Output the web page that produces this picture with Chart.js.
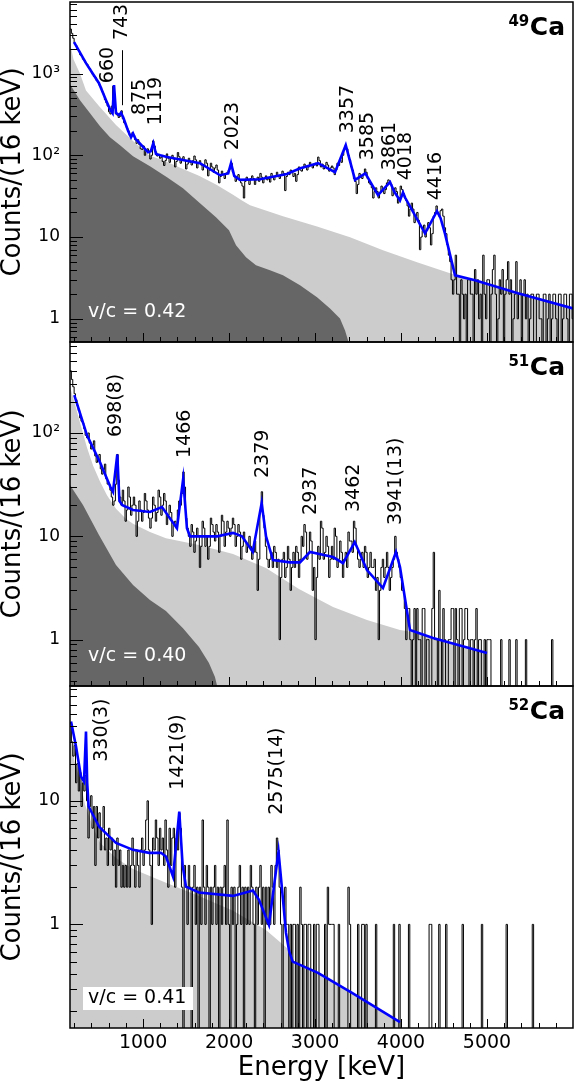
<!DOCTYPE html>
<html><head><meta charset="utf-8">
<script src="https://cdn.jsdelivr.net/npm/chart.js@4.4.1/dist/chart.umd.min.js"></script>
<style>
html,body{margin:0;padding:0;background:#fff;}
#wrap{position:relative;width:575px;height:1086px;overflow:hidden;background:#fff;}
canvas{position:absolute;left:0;}
</style></head><body>
<div id="wrap">
<canvas id="c1" width="575" height="344" style="top:0px;width:575px;height:344px"></canvas>
<canvas id="c2" width="575" height="348" style="top:340px;width:575px;height:348px"></canvas>
<canvas id="c3" width="575" height="402" style="top:684px;width:575px;height:402px"></canvas>
</div>
<script>
// ---------------- DATA ----------------
const energyMin = 150, energyMax = 6000;
const binStart = 150;
const binWidth = 16;
const xTickValues = [1000, 2000, 3000, 4000, 5000];

// 49Ca measured spectrum (counts per 16 keV, first bin starts at 150 keV)
const ca49Counts = [
3500,3100,2700,2350,2200,2000,1900,1700,1650,1500,1450,1350,1300,1200,1150,1050,980,920,900,820,
780,720,680,600,560,480,440,400,340,320,400,700,380,320,310,290,300,350,280,250,
240,215,200,175,170,190,175,155,140,155,135,120,118,130,100,112,120,108,90,100,
150,130,110,98,102,92,95,84,75,86,104,92,82,92,100,90,72,84,108,96,
80,90,96,86,68,78,92,82,76,86,98,88,70,80,86,76,66,74,88,80,
56,66,80,72,62,70,76,66,46,55,64,58,52,60,62,66,68,80,62,56,
48,54,58,50,46,42,30,48,54,50,44,52,56,52,44,50,54,48,60,54,
46,52,56,50,52,47,60,54,50,55,62,56,52,58,64,60,37,55,62,58,
66,62,55,60,48,58,72,66,64,70,78,72,66,72,82,76,70,76,80,74,
95,86,72,78,68,74,82,76,64,70,74,70,58,66,80,75,88,82,100,118,
132,120,100,88,72,66,52,48,34,44,60,54,52,58,68,62,52,46,44,40,
30,36,40,36,30,35,42,38,34,38,46,50,48,44,32,36,40,36,26,30,
42,38,34,30,28,24,18,22,26,22,15,18,20,16,7,10,12,14,10,12,
15,13,8,11,18,20,24,20,18,21,22,18,13,11,8,6,5,3,2,3,
6,2,2,0,3,2,1,2,0,3,3,2,2,0,4,2,3,1,2,0,
6,2,1,3,3,0,2,4,6,2,0,1,3,2,4,0,2,3,5,2,
3,0,1,2,5,1,2,3,0,2,3,1,2,0,1,2,2,0,0,2,
2,1,1,0,2,2,0,1,2,0,1,2,2,1,0,2,2,0,1,2,2,1,0,2,2,1];
const ca49Fit = [[197,2420],[336,1340],[487,762],[569,472],[620,356],[645,327],[662,721],[685,330],[720,310],[743,330],[770,290],[825,200],[860,166],[883,185],[910,160],[1057,109],[1090,112],[1119,140],[1150,104],[1200,100],[1278,95],[1662,80],[1895,57],[1990,60],[2023,80],[2060,56],[2127,50],[2360,51],[2674,59],[2820,69],[3034,80],[3232,62],[3357,133],[3465,50],[3585,60],[3732,32.5],[3872,47],[3920,36],[3988,28],[4023,35],[4050,30],[4279,11.1],[4418,20.7],[4460,17],[4511,11],[4628,3.4],[4860,2.96],[5360,2.05],[6000,1.34]];
const ca49BgLight = [[150,2400],[190,1500],[266,1000],[336,620],[487,400],[685,235],[883,150],[1069,100],[1267,84],[1464,68],[1650,56],[1848,44],[2046,33],[2150,28],[2244,24.5],[2627,18],[3023,13.5],[3407,9.96],[3790,6.9],[4186,4.92],[4570,3.61],[4919,2.8],[5268,2.17],[5617,1.73],[6000,1.34]];
const ca49BgDark = [[150,741],[266,472],[383,327],[499,227],[615,166],[732,133],[883,97.5],[1080,73.6],[1278,54],[1464,39.5],[1662,25.9],[1848,17.5],[1999,12.1],[2081,7.94],[2197,5.66],[2313,4.52],[2476,3.93],[2627,3.4],[2825,2.57],[3023,1.83],[3174,1.34],[3290,1.01],[3349,0.72],[3407,0.45]];
const ca49PeakLabels = ['660','743','875','1119','2023','3357','3585','3861','4018','4416'];

// 51Ca
const ca51Counts = [
400,330,280,240,210,185,165,140,130,125,110,95,90,100,80,70,76,84,60,52,
56,62,45,40,44,50,36,32,32,28,24,20,22,32,62,35,24,20,28,22,
14,18,30,24,16,20,24,20,10,14,22,18,14,17,26,22,18,15,12,15,
24,20,14,17,28,24,16,20,26,22,13,16,20,17,10,13,14,12,18,22,
20,26,42,30,15,12,10,8,13,11,7,9,12,10,5,8,14,12,8,10,
6,8,15,13,11,9,13,11,7,10,16,14,8,11,14,12,10,12,15,13,
8,10,13,11,6,8,11,9,7,8,10,8,6,7,9,7,3,6,18,27,
16,12,8,6,5,6,7,5,8,7,5,6,1,4,6,7,4,5,8,6,
3,5,7,5,8,7,4,6,10,8,13,11,6,7,11,9,3,5,1,4,
8,6,14,12,6,7,10,8,4,6,8,6,12,10,5,6,9,7,4,6,
7,5,11,9,9,7,14,12,8,6,5,6,7,5,8,7,4,5,7,5,
5,6,3,4,1,3,5,6,4,5,7,5,3,4,5,6,10,7,6,5,
4,3,3,2,1,2,2,1,0,1,2,0,2,1,1,0,2,2,0,1,
1,0,0,2,7,1,1,0,3,1,0,2,1,0,0,1,1,2,2,0,
2,1,0,2,2,0,1,2,2,1,0,1,1,0,1,2,0,1,1,0,
0,1,0,1,1,1,0,0,0,0,0,0,0,1,0,0,0,0,0,1,
0,0,0,0,1,0,0,0,0,0,0,1,0,0,0,0,0,0,0,0,
0,0,0,0,0,0,0,0,0,0,1,0,0,0,0,0,0,0,0,0,0,0,0,0,0,0];
const ca51Fit = [[200,233],[348,95],[499,52],[620,30],[650,27],[700,62],[725,22],[760,20],[883,18],[1080,17.2],[1220,19.2],[1394,12],[1466,36],[1510,12],[1546,10],[1860,10],[2046,10.8],[2150,10],[2275,7.1],[2379,21],[2430,10],[2511,5.9],[2709,5.6],[2825,5.6],[2941,7.05],[3209,6.3],[3325,5.5],[3462,8.8],[3604,4.72],[3790,3.16],[3941,7.05],[3988,5.05],[4104,1.24],[4372,1.04],[5000,0.742]];
const ca51BgLight = [[150,280],[208,190],[280,115],[348,72],[420,48],[499,34],[580,25],[685,18.5],[800,14.8],[883,13.2],[1080,11],[1266,9.6],[1650,8.24],[2046,6.74],[2429,4.93],[2813,3.09],[3209,2.07],[3604,1.55],[3988,1.24],[4104,1.2],[4372,1.04],[5000,0.742]];
const ca51BgDark = [[150,31.4],[301,20.1],[487,10.3],[685,5.27],[883,3.38],[1080,2.42],[1266,1.89],[1464,1.29],[1650,0.848],[1766,0.594],[1836,0.434],[1883,0.3]];
const ca51PeakLabels = ['698(8)','1466','2379','2937','3462','3941(13)'];

// 52Ca
const ca52Counts = [
40,30,23,28,14,20,12,17,9,14,12,16,10,5,9,11,6,9,3,9,
5,8,4,6,9,4,5,3,6,4,5,3,4,2,5,3,4,2,3,2,
3,2,4,2,3,5,3,2,4,3,2,4,5,3,4,7,10,4,3,1,
5,4,7,5,3,6,4,5,3,7,4,2,6,3,5,6,2,5,4,8,
6,2,0,3,2,1,3,2,0,2,3,1,2,0,2,1,7,2,1,3,
2,0,2,1,2,3,1,2,0,2,1,2,3,1,7,1,0,2,1,2,
0,1,2,3,1,2,0,2,1,2,1,3,2,1,0,2,1,2,3,1,
2,0,2,1,2,1,3,2,1,3,5,4,2,1,0,1,2,1,1,0,
1,0,1,1,0,1,0,2,1,0,1,1,0,1,1,0,0,1,0,1,
1,0,0,0,0,1,0,2,1,1,1,1,0,0,0,1,0,0,0,0,
0,0,2,1,0,0,0,0,0,1,0,0,1,1,0,1,0,0,0,0,
0,0,1,0,0,0,0,0,0,0,0,0,0,0,0,1,0,0,0,1,
0,0,0,0,0,0,1,0,0,0,0,0,0,0,0,0,0,0,0,0,
0,1,1,0,0,0,0,0,1,0,0,0,0,1,0,0,0,0,0,0,
0,0,0,0,0,1,0,0,0,0,0,0,0,0,0,0,0,0,0,1,
0,0,0,0,0,0,0,0,0,0,0,0,0,0,0,0,0,1,0,0,
0,0,0,0,0,0,0,0,0,0,0,0,0,0,0,0,1,0,0,0,
0,0,0,0,0,0,0,0,0,0,0,0,0,0,0,0,0,0,0,0,0,0,0,0,0,0];
const ca52Fit = [[162,43.9],[220,27.5],[278,15.7],[313,14.3],[336,36.4],[350,14],[367,9.0],[487,6.19],[685,4.57],[883,4.01],[1069,3.79],[1208,3.8],[1266,3.54],[1348,2.44],[1421,8.19],[1460,3.0],[1499,2.02],[1650,1.81],[2046,1.7],[2278,1.88],[2348,1.58],[2464,0.99],[2575,3.89],[2620,1.8],[2662,0.853],[2700,0.6],[2740,0.5],[3034,0.405],[3430,0.279],[3988,0.162]];
const ca52BgLight = [[150,37.6],[200,21],[266,14.8],[325,9.28],[417,6.15],[499,4.57],[685,3.45],[883,2.81],[1266,2.17],[1650,1.7],[2046,1.29],[2429,0.9],[2700,0.62],[2740,0.5],[3034,0.405],[3430,0.279],[3988,0.162]];
const ca52PeakLabels = ['330(3)','1421(9)','2575(14)'];

// ---------------- RENDERING ----------------
const FONT = '"DejaVu Sans", "Liberation Sans", sans-serif';
Chart.defaults.font.family = FONT;
Chart.defaults.color = '#000';

const toXY = arr => arr.map(([x, y]) => ({x, y}));
function histogram(counts, width) {
  const pts = counts.map((c, i) => ({x: binStart + i * width, y: Math.max(c, 1e-3)}));
  pts.push({x: binStart + counts.length * width, y: Math.max(counts[counts.length - 1], 1e-3)});
  return pts;
}
function zeroPad(s) { s.paddingTop = 0; s.paddingBottom = 0; s.paddingLeft = 0; s.paddingRight = 0; }
function line(ctx, x1, y1, x2, y2) { ctx.beginPath(); ctx.moveTo(x1, y1); ctx.lineTo(x2, y2); ctx.stroke(); }

const panelDecor = {
  id: 'panelDecor',
  afterDatasetsDraw(chart, args, o) {
    const {ctx, chartArea: a} = chart;
    const xs = chart.scales.x, ys = chart.scales.y;
    ctx.save();
    ctx.strokeStyle = '#000';
    ctx.lineWidth = 1;
    for (let e = 200; e < energyMax; e += 200) {
      const px = Math.round(xs.getPixelForValue(e)) + 0.5;
      line(ctx, px, a.bottom, px, a.bottom - (e % 1000 === 0 ? 9 : 5));
    }
    for (let d = -1; d <= 4; d++) {
      for (let m = 1; m <= 9; m++) {
        const v = m * Math.pow(10, d);
        if (v < ys.min || v > ys.max) continue;
        const py = Math.round(ys.getPixelForValue(v)) + 0.5;
        line(ctx, a.left, py, a.left + (m === 1 ? 13 : 7), py);
      }
    }
    ctx.lineWidth = 1.5;
    ctx.strokeRect(a.left, a.top, a.right - a.left, a.bottom - a.top);
    if (o.markerLine) {
      ctx.lineWidth = 1;
      const mx = Math.round(xs.getPixelForValue(o.markerLine[0])) + 0.5;
      line(ctx, mx, ys.getPixelForValue(o.markerLine[1]), mx, ys.getPixelForValue(o.markerLine[2]));
    }
    ctx.fillStyle = '#000';
    ctx.font = '19px ' + FONT;
    ctx.textAlign = 'left';
    ctx.textBaseline = 'middle';
    o.labels.forEach((t, i) => {
      const [e, v] = o.labelAt[i];
      ctx.save();
      ctx.translate(xs.getPixelForValue(e), ys.getPixelForValue(v));
      ctx.rotate(-Math.PI / 2);
      ctx.fillText(t, 0, 1);
      ctx.restore();
    });
    ctx.textBaseline = 'alphabetic';
    ctx.textAlign = 'right';
    ctx.font = 'bold 25px ' + FONT;
    const rx = a.right - 8;
    ctx.fillText(o.element, rx, a.top + 33);
    const w = ctx.measureText(o.element).width;
    ctx.font = 'bold 15px ' + FONT;
    ctx.fillText(o.mass, rx - w - 0.5, a.top + 24);
    ctx.font = '19px ' + FONT;
    ctx.textAlign = 'left';
    ctx.textBaseline = 'middle';
    if (o.vcBox) {
      ctx.fillStyle = '#fff';
      ctx.fillRect(a.left + 13, a.bottom - 41, 110, 23);
      ctx.fillStyle = '#000';
    } else {
      ctx.fillStyle = '#fff';
    }
    ctx.fillText(o.vcText, a.left + 18, a.bottom - 30);
    ctx.restore();
  }
};

function makeChart(id, p) {
  const datasets = [
    {data: toXY(p.fit), borderColor: '#0000ff', borderWidth: 2.6, pointRadius: 0, tension: 0, fill: false},
    {data: histogram(p.counts, binWidth), borderColor: '#000', borderWidth: 1, pointRadius: 0, stepped: true, fill: false}
  ];
  if (p.dark) datasets.push({data: toXY(p.dark), borderWidth: 0, borderColor: 'rgba(0,0,0,0)', backgroundColor: '#666666', fill: 'start', pointRadius: 0, tension: 0});
  datasets.push({data: toXY(p.light), borderWidth: 0, borderColor: 'rgba(0,0,0,0)', backgroundColor: '#cccccc', fill: 'start', pointRadius: 0, tension: 0});

  const yLabels = {1: '1', 10: '10', 100: '10\u00B2', 1000: '10\u00B3'};
  const xScale = {
    type: 'linear', min: energyMin, max: energyMax, display: p.showX,
    grid: {display: false, drawTicks: false}, border: {display: false},
    afterBuildTicks: s => { s.ticks = xTickValues.map(v => ({value: v})); },
    afterFit: s => { zeroPad(s); if (p.showX) s.height = 58; },
    ticks: {autoSkip: false, maxRotation: 0, padding: 4, font: {size: 19}, color: '#000', callback: v => String(v)},
    title: {display: true, text: 'Energy [keV]', font: {size: 26, lineHeight: 1.2}, color: '#000', padding: {top: 0, bottom: 2.4}}
  };

  return new Chart(document.getElementById(id), {
    type: 'line',
    data: {datasets},
    options: {
      responsive: false, animation: false, devicePixelRatio: 1, events: [],
      normalized: true,
      layout: {padding: p.padding},
      scales: {
        x: xScale,
        y: {
          type: 'logarithmic', min: p.yMin, max: p.yMax,
          grid: {display: false, drawTicks: false}, border: {display: false},
          afterFit: s => { s.width = 70; zeroPad(s); },
          afterBuildTicks: s => { s.ticks = p.yTicks.map(v => ({value: v})); },
          ticks: {autoSkip: false, padding: 10, font: {size: 17}, color: '#000', callback: v => yLabels[v]},
          title: {display: true, text: 'Counts/(16 keV)', font: {size: 26, lineHeight: 1}, color: '#000', padding: 0}
        }
      },
      plugins: {legend: {display: false}, tooltip: {enabled: false}, panelDecor: p.decor}
    },
    plugins: [panelDecor]
  });
}

makeChart('c1', {
  fit: ca49Fit, counts: ca49Counts, light: ca49BgLight, dark: ca49BgDark,
  yMin: 0.52, yMax: 7500, yTicks: [1, 10, 100, 1000], showX: false,
  padding: {top: 2, bottom: 2, left: 0, right: 2},
  decor: {element: 'Ca', mass: '49', vcText: 'v/c = 0.42', vcBox: false, labels: ca49PeakLabels,
    labelAt: [[580,762],[743,2564],[953,310],[1139,233],[2034,115],[3378,186],[3601,87],[3866,65.7],[4052,49.5],[4401,28.2]],
    markerLine: [758, 1930, 410]}
});
makeChart('c2', {
  fit: ca51Fit, counts: ca51Counts, light: ca51BgLight, dark: ca51BgDark,
  yMin: 0.356, yMax: 760, yTicks: [1, 10, 100], showX: false,
  padding: {top: 2, bottom: 2, left: 0, right: 2},
  decor: {element: 'Ca', mass: '51', vcText: 'v/c = 0.40', vcBox: false, labels: ca51PeakLabels,
    labelAt: [[679,91.5],[1482,57.3],[2389,36.7],[2941,16.1],[3447,17.2],[3930,12.9]]}
});
makeChart('c3', {
  fit: ca52Fit, counts: ca52Counts, light: ca52BgLight, dark: null,
  yMin: 0.145, yMax: 85, yTicks: [1, 10], showX: true,
  padding: {top: 2, bottom: 0, left: 0, right: 2},
  decor: {element: 'Ca', mass: '52', vcText: 'v/c = 0.41', vcBox: true, labels: ca52PeakLabels,
    labelAt: [[508,20.7],[1400,12.3],[2552,7.7]]}
});
</script>
</body></html>
